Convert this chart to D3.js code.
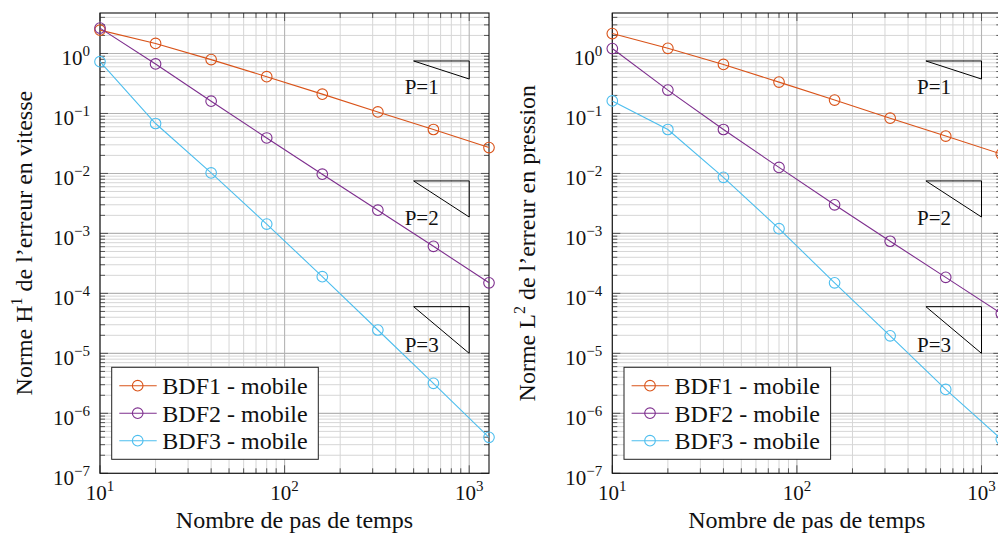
<!DOCTYPE html>
<html>
<head>
<meta charset="utf-8">
<script src="https://cdn.jsdelivr.net/npm/d3@7"></script>
<style>
  html, body { margin: 0; padding: 0; background: #fff; }
  svg { display: block; }
  text { font-family: "Liberation Serif", "DejaVu Serif", serif; fill: #111; }
</style>
</head>
<body>
<svg id="chart" width="998" height="537"></svg>
<script>
// Number of time steps (x values shared by every series)
const steps = [10, 20, 40, 80, 160, 320, 640, 1280];

// H1 norm of the velocity error
const velBDF1 = [2.45, 1.47, 0.79, 0.41, 0.21, 0.106, 0.054, 0.027];
const velBDF2 = [2.65, 0.67, 0.16, 0.039, 0.0097, 0.00244, 6.1e-4, 1.5e-4];
const velBDF3 = [0.73, 0.068, 0.0102, 1.43e-3, 1.9e-4, 2.45e-5, 3.16e-6, 3.98e-7];

// L2 norm of the pressure error
const presBDF1 = [2.15, 1.22, 0.656, 0.333, 0.167, 0.0835, 0.042, 0.021];
const presBDF2 = [1.21, 0.245, 0.054, 0.0126, 0.003, 7.4e-4, 1.85e-4, 4.6e-5];
const presBDF3 = [0.162, 0.054, 0.0086, 1.2e-3, 1.5e-4, 1.96e-5, 2.5e-6, 3.7e-7];

const seriesNames = ["BDF1 - mobile", "BDF2 - mobile", "BDF3 - mobile"];
const seriesColors = ["#D95319", "#7E2F8E", "#4DBEEE"];

// Axis ticks (decades) and their exponents
const xTickExps = [1, 2, 3];
const yTickExps = [0, -1, -2, -3, -4, -5, -6, -7];

// Reference slope triangles: x extent, top and bottom y, label position
const slopeOrders = ["P=1", "P=2", "P=3"];
const triX = [500, 1000];
const triTop = [0.75, 7.5e-3, 6e-5];
const triBottom = [0.375, 1.875e-3, 1e-5];
const triLabelX = 553;
const triLabelY = [0.28, 1.8e-3, 1.38e-5];

const xDomain = [10, 1280];
const yDomain = [1e-7, Math.pow(10, 0.675)];

const panels = [
  { left: 100, right: 489, ylab: ["Norme H", "1", " de l\u2019erreur en vitesse"], ylabX: 32,
    data: [velBDF1, velBDF2, velBDF3] },
  { left: 612.3, right: 1001.3, ylab: ["Norme L", "2", " de l\u2019erreur en pression"], ylabX: 535,
    data: [presBDF1, presBDF2, presBDF3] }
];
const plotTop = 13, plotBottom = 473.3;

const svg = d3.select("#chart");

panels.forEach(p => {
  const g = svg.append("g");
  const x = d3.scaleLog().domain(xDomain).range([p.left, p.right]);
  const y = d3.scaleLog().domain(yDomain).range([plotBottom, plotTop]);

  // grid values
  const xMinor = [], yMinor = [];
  for (let e = 1; e <= 3; e++) for (let k = 2; k <= 9; k++) {
    const v = k * Math.pow(10, e); if (v <= xDomain[1]) xMinor.push(v);
  }
  for (let e = -7; e <= 0; e++) for (let k = 2; k <= 9; k++) {
    const v = k * Math.pow(10, e); if (v <= yDomain[1]) yMinor.push(v);
  }
  const xMajor = xTickExps.map(e => Math.pow(10, e));
  const yMajor = yTickExps.map(e => Math.pow(10, e));

  const grid = g.append("g").attr("fill", "none");
  grid.selectAll(".xmin").data(xMinor).join("line")
    .attr("x1", d => x(d)).attr("x2", d => x(d)).attr("y1", plotTop).attr("y2", plotBottom)
    .attr("stroke", "#d6d6d6").attr("stroke-width", 1);
  grid.selectAll(".ymin").data(yMinor).join("line")
    .attr("y1", d => y(d)).attr("y2", d => y(d)).attr("x1", p.left).attr("x2", p.right)
    .attr("stroke", "#d6d6d6").attr("stroke-width", 1);
  grid.selectAll(".xmaj").data(xMajor).join("line")
    .attr("x1", d => x(d)).attr("x2", d => x(d)).attr("y1", plotTop).attr("y2", plotBottom)
    .attr("stroke", "#b4b4b4").attr("stroke-width", 1.1);
  grid.selectAll(".ymaj").data(yMajor).join("line")
    .attr("y1", d => y(d)).attr("y2", d => y(d)).attr("x1", p.left).attr("x2", p.right)
    .attr("stroke", "#b4b4b4").attr("stroke-width", 1.1);

  // inward ticks on all four sides
  const ticks = g.append("g").attr("stroke", "#555").attr("stroke-width", 1);
  const tickLen = (len, arr, horiz) => {
    arr.forEach(v => {
      if (horiz) {
        ticks.append("line").attr("x1", x(v)).attr("x2", x(v)).attr("y1", plotBottom).attr("y2", plotBottom - len);
        ticks.append("line").attr("x1", x(v)).attr("x2", x(v)).attr("y1", plotTop).attr("y2", plotTop + len);
      } else {
        ticks.append("line").attr("y1", y(v)).attr("y2", y(v)).attr("x1", p.left).attr("x2", p.left + len);
        ticks.append("line").attr("y1", y(v)).attr("y2", y(v)).attr("x1", p.right).attr("x2", p.right - len);
      }
    });
  };
  tickLen(5, xMinor, true); tickLen(8, xMajor, true);
  tickLen(5, yMinor, false); tickLen(8, yMajor, false);

  // frame
  g.append("rect").attr("x", p.left).attr("y", plotTop)
    .attr("width", p.right - p.left).attr("height", plotBottom - plotTop)
    .attr("fill", "none").attr("stroke", "#111").attr("stroke-width", 1.1);

  // tick labels
  xTickExps.forEach(e => {
    const t = g.append("text").attr("x", x(Math.pow(10, e))).attr("y", 500)
      .attr("text-anchor", "middle").attr("font-size", 21);
    t.append("tspan").text("10");
    t.append("tspan").attr("font-size", 15).attr("dy", -9).text(String(e));
  });
  yTickExps.forEach(e => {
    const t = g.append("text").attr("x", p.left - 10).attr("y", y(Math.pow(10, e)) + 11.5)
      .attr("text-anchor", "end").attr("font-size", 21);
    t.append("tspan").text("10");
    t.append("tspan").attr("font-size", 15).attr("dy", -8.5)
      .text(e < 0 ? "\u2212" + Math.abs(e) : String(e));
  });

  // axis labels
  g.append("text").attr("x", (p.left + p.right) / 2).attr("y", 528)
    .attr("text-anchor", "middle").attr("font-size", 24).text("Nombre de pas de temps");
  const yl = g.append("text")
    .attr("transform", `translate(${p.ylabX},${(plotTop + plotBottom) / 2}) rotate(-90)`)
    .attr("text-anchor", "middle").attr("font-size", 24);
  yl.append("tspan").text(p.ylab[0]);
  yl.append("tspan").attr("font-size", 16).attr("dy", -10).text(p.ylab[1]);
  yl.append("tspan").attr("dy", 10).text(p.ylab[2]);

  // slope triangles
  const tri = g.append("g");
  triTop.forEach((t, i) => {
    tri.append("path")
      .attr("d", d3.line()([[x(triX[0]), y(t)], [x(triX[1]), y(t)], [x(triX[1]), y(triBottom[i])]]) + "Z")
      .attr("fill", "none").attr("stroke", "#000").attr("stroke-width", 1);
    tri.append("text").attr("x", x(triLabelX)).attr("y", y(triLabelY[i]))
      .attr("dy", "0.35em").attr("text-anchor", "middle").attr("font-size", 21)
      .text(slopeOrders[i]);
  });

  // series
  const line = d3.line().x(d => x(d[0])).y(d => y(d[1]));
  p.data.forEach((vals, i) => {
    const pts = steps.map((s, j) => [s, vals[j]]);
    g.append("path").attr("d", line(pts)).attr("fill", "none")
      .attr("stroke", seriesColors[i]).attr("stroke-width", 1.1);
    g.append("g").selectAll("circle").data(pts).join("circle")
      .attr("cx", d => x(d[0])).attr("cy", d => y(d[1])).attr("r", 5.3)
      .attr("fill", "none").attr("stroke", seriesColors[i]).attr("stroke-width", 1.1);
  });

  // legend
  const lx = p.left + 11.7, ly = 367.3, lw = 206.6, lh = 92;
  const lg = g.append("g");
  lg.append("rect").attr("x", lx).attr("y", ly).attr("width", lw).attr("height", lh)
    .attr("fill", "#fff").attr("stroke", "#222").attr("stroke-width", 1);
  seriesNames.forEach((name, i) => {
    const cy = ly + 18.4 + i * 27.5;
    lg.append("line").attr("x1", lx + 7.6).attr("x2", lx + 45).attr("y1", cy).attr("y2", cy)
      .attr("stroke", seriesColors[i]).attr("stroke-width", 1.1);
    lg.append("circle").attr("cx", lx + 26).attr("cy", cy).attr("r", 5.3)
      .attr("fill", "none").attr("stroke", seriesColors[i]).attr("stroke-width", 1.1);
    lg.append("text").attr("x", lx + 50.6).attr("y", cy).attr("dy", "0.35em")
      .attr("font-size", 24).text(name);
  });
});
</script>
</body>
</html>
